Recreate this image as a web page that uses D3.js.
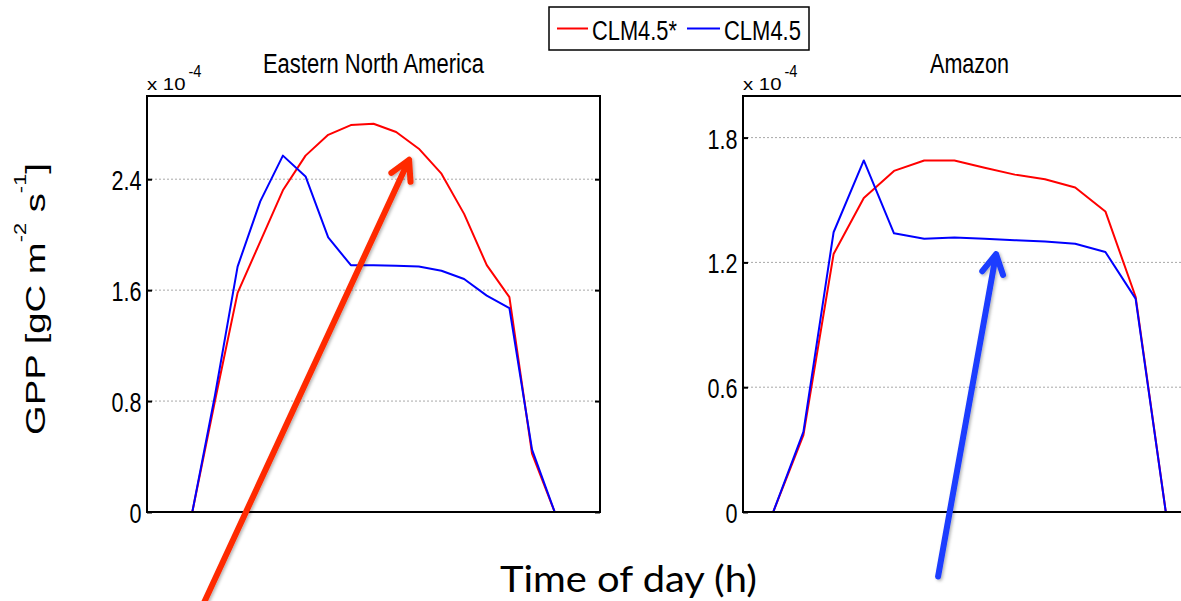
<!DOCTYPE html>
<html>
<head>
<meta charset="utf-8">
<script src="https://cdn.jsdelivr.net/npm/d3@7"></script>
<style>
  html, body { margin: 0; padding: 0; background: #fff; }
  svg { display: block; }
</style>
</head>
<body>
<svg id="chart" width="1181" height="601"></svg>
<script>
// GPP diurnal cycle, values in units of 1e-4 gC m-2 s-1
const seriesNames = ["CLM4.5*", "CLM4.5"];
const seriesColors = ["#ff0000", "#0000ff"];

// Eastern North America (hourly)
const enaHours = [5, 6, 7, 8, 9, 10, 11, 12, 13, 14, 15, 16, 17, 18, 19, 20, 21];
const enaCLM45star = [0, 0.80, 1.58, 1.95, 2.32, 2.57, 2.72, 2.79, 2.80, 2.74, 2.62, 2.44, 2.15, 1.78, 1.55, 0.42, 0];
const enaCLM45 = [0, 0.84, 1.77, 2.24, 2.57, 2.42, 1.98, 1.78, 1.78, 1.775, 1.77, 1.74, 1.68, 1.56, 1.47, 0.45, 0];
const enaTicks = [0, 0.8, 1.6, 2.4];
const enaTickLabels = ["0", "0.8", "1.6", "2.4"];

// Amazon (hourly)
const amzHours = [6, 7, 8, 9, 10, 11, 12, 13, 14, 15, 16, 17, 18, 19];
const amzCLM45star = [0, 0.37, 1.24, 1.51, 1.64, 1.69, 1.69, 1.655, 1.622, 1.60, 1.56, 1.445, 1.035, 0];
const amzCLM45 = [0, 0.385, 1.345, 1.69, 1.34, 1.314, 1.32, 1.314, 1.307, 1.30, 1.29, 1.25, 1.026, 0];
const amzTicks = [0, 0.6, 1.2, 1.8];
const amzTickLabels = ["0", "0.6", "1.2", "1.8"];

// Highlight arrows, given in each panel's data coordinates [hour, value]
const enaArrow = { from: [5.47, -0.67], to: [14.57, 2.54] };
const amzArrow = { from: [11.46, -0.31], to: [13.38, 1.24] };

const svg = d3.select("#chart");
const matlabFont = "'Liberation Sans', Arial, sans-serif";

// Text helper: places text and squeezes it horizontally to a given width
function label(parent, o) {
  const g = parent.append("g")
    .attr("transform", `translate(${o.x},${o.y}) rotate(${o.rotate || 0})`);
  const t = g.append("text")
    .attr("text-anchor", o.anchor || "start")
    .style("font-family", o.family || matlabFont)
    .style("font-size", o.size + "px")
    .attr("fill", "#000");
  if (o.parts) {
    o.parts.forEach(p => {
      t.append("tspan")
        .attr("dy", p.dy || 0)
        .style("font-size", (p.size || o.size) + "px")
        .text(p.text);
    });
  } else {
    t.text(o.text);
  }
  let k = o.sx || 1;
  if (o.width) k = o.width / t.node().getBBox().width;
  t.attr("transform", `scale(${k},1)`);
  return t;
}

const defs = svg.append("defs");
const shadow = defs.append("filter").attr("id", "arrowShadow")
  .attr("x", "-20%").attr("y", "-20%").attr("width", "140%").attr("height", "140%");
shadow.append("feDropShadow")
  .attr("dx", 1.5).attr("dy", 1.5).attr("stdDeviation", 1.5)
  .attr("flood-color", "#000").attr("flood-opacity", 0.3);

const panelTop = 96, panelBottom = 512;

function drawPanel(cfg) {
  const x = d3.scaleLinear().domain(cfg.xDomain).range([cfg.left, cfg.right]);
  const y = d3.scaleLinear().domain(cfg.yDomain).range([panelBottom, panelTop]);
  const g = svg.append("g");

  // dotted grid lines
  g.append("g").selectAll("line").data(cfg.ticks.filter(d => d > 0)).join("line")
    .attr("x1", cfg.left).attr("x2", cfg.right)
    .attr("y1", d => y(d)).attr("y2", d => y(d))
    .attr("stroke", "#a8a8a8").attr("stroke-width", 1)
    .attr("stroke-dasharray", "2,2");

  // inward ticks on both sides
  const yl = d3.axisRight(y).tickValues(cfg.ticks).tickSize(5).tickFormat("");
  const yr = d3.axisLeft(y).tickValues(cfg.ticks).tickSize(5).tickFormat("");
  g.append("g").attr("transform", `translate(${cfg.left},0)`).call(yl)
    .call(s => s.select(".domain").remove())
    .selectAll("line").attr("stroke", "#000").attr("stroke-width", 2);
  g.append("g").attr("transform", `translate(${cfg.right},0)`).call(yr)
    .call(s => s.select(".domain").remove())
    .selectAll("line").attr("stroke", "#000").attr("stroke-width", 2);

  // tick labels
  cfg.ticks.forEach((v, i) => {
    label(g, { x: cfg.left - 5.5, y: y(v) + 11, text: cfg.tickLabels[i],
      size: 27, anchor: "end", sx: 0.8 });
  });

  // series lines
  const line = d3.line().x(d => x(d[0])).y(d => y(d[1]));
  cfg.series.forEach((vals, i) => {
    g.append("path")
      .datum(cfg.hours.map((h, j) => [h, vals[j]]))
      .attr("d", line)
      .attr("fill", "none")
      .attr("stroke", seriesColors[i])
      .attr("stroke-width", 2)
      .attr("stroke-linejoin", "round");
  });

  // frame
  g.append("rect")
    .attr("x", cfg.left).attr("y", panelTop)
    .attr("width", cfg.right - cfg.left).attr("height", panelBottom - panelTop)
    .attr("fill", "none").attr("stroke", "#000").attr("stroke-width", 2);

  // title and exponent
  label(g, { x: (cfg.left + cfg.right) / 2, y: 73, text: cfg.title, size: 27,
    anchor: "middle", width: cfg.titleWidth });
  label(g, { x: cfg.left, y: 90, text: "x 10", size: 17, width: 38.5 });
  label(g, { x: cfg.left + 41.5, y: 76.7, text: "-4", size: 16.5, width: 13 });

  return { x, y };
}

const ena = drawPanel({
  left: 147, right: 600, xDomain: [3, 23], yDomain: [0, 3.0],
  hours: enaHours, series: [enaCLM45star, enaCLM45],
  ticks: enaTicks, tickLabels: enaTickLabels,
  title: "Eastern North America", titleWidth: 222
});
const amz = drawPanel({
  left: 743, right: 1196, xDomain: [5, 20], yDomain: [0, 2.0],
  hours: amzHours, series: [amzCLM45star, amzCLM45],
  ticks: amzTicks, tickLabels: amzTickLabels,
  title: "Amazon", titleWidth: 79
});

// legend
const lg = svg.append("g");
lg.append("rect").attr("x", 549).attr("y", 7).attr("width", 260).attr("height", 43)
  .attr("fill", "#fff").attr("stroke", "#000").attr("stroke-width", 1.5);
const legendItems = [
  { x1: 557, x2: 588, tx: 592, tw: 85 },
  { x1: 687, x2: 720, tx: 724, tw: 77 }
];
legendItems.forEach((it, i) => {
  lg.append("line").attr("x1", it.x1).attr("x2", it.x2).attr("y1", 28.5).attr("y2", 28.5)
    .attr("stroke", seriesColors[i]).attr("stroke-width", 2);
  label(lg, { x: it.tx, y: 39.5, text: seriesNames[i], size: 28, width: it.tw });
});

// axis titles
label(svg, { x: 45, y: 299, rotate: -90, anchor: "middle", size: 28, width: 272,
  parts: [
    { text: "GPP [gC m" },
    { text: "-2", size: 16, dy: -19 },
    { text: " s", dy: 19 },
    { text: "-1", size: 16, dy: -19 },
    { text: "]", dy: 19 }
  ] });
label(svg, { x: 628.5, y: 592, text: "Time of day (h)", size: 36, anchor: "middle",
  width: 257, family: "Lato, 'Open Sans', sans-serif" });

// highlight arrows
function arrow(sc, a, color) {
  const p0 = [sc.x(a.from[0]), sc.y(a.from[1])];
  const p1 = [sc.x(a.to[0]), sc.y(a.to[1])];
  const ang = Math.atan2(p0[1] - p1[1], p0[0] - p1[0]);
  const len = 22, spread = 0.5;
  const w1 = [p1[0] + len * Math.cos(ang + spread), p1[1] + len * Math.sin(ang + spread)];
  const w2 = [p1[0] + len * Math.cos(ang - spread), p1[1] + len * Math.sin(ang - spread)];
  const g = svg.append("g").attr("filter", "url(#arrowShadow)");
  g.append("path")
    .attr("d", d3.line()([p0, p1]) + d3.line()([w1, p1, w2]))
    .attr("fill", "none").attr("stroke", color).attr("stroke-width", 6)
    .attr("stroke-linecap", "round").attr("stroke-linejoin", "round");
}
arrow(ena, enaArrow, "#ff2a00");
arrow(amz, amzArrow, "#1a3cff");
</script>
</body>
</html>
